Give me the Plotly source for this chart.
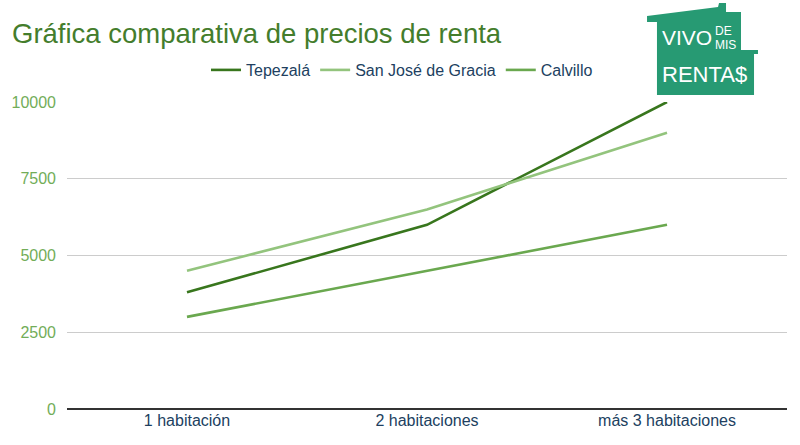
import plotly.graph_objects as go

# Data
categorias = ["1 habitación", "2 habitaciones", "más 3 habitaciones"]
tepezala = [3800, 6000, 10000]
san_jose = [4500, 6500, 9000]
calvillo = [3000, 4500, 6000]
y_ticks = [0, 2500, 5000, 7500, 10000]

W, H = 800, 445
L, R, T, B = 67, 13, 102, 36


def px_x(x):
    return (x - L) / (W - L - R)


def px_y(y):
    return (H - B - y) / (H - T - B)


fig = go.Figure()

series = [
    ("Tepezalá", tepezala, "#38761d"),
    ("San José de Gracia", san_jose, "#93c47d"),
    ("Calvillo", calvillo, "#6aa84f"),
]
for name, vals, color in series:
    fig.add_trace(go.Scatter(
        x=categorias,
        y=vals,
        mode="lines",
        name=name,
        line=dict(color=color, width=2.6),
        hoverinfo="skip"
    ))

# Logo "Vivo de mis rentas" (house badge), outline in page pixels
house = [(647, 16), (718, 7), (719, 3), (726, 3), (726, 12), (741, 12),
         (741, 50), (758, 50), (758, 54), (754, 54), (754, 95), (657, 95),
         (657, 22), (647, 22)]
path = "M " + " L ".join(f"{px_x(x):.4f},{px_y(y):.4f}" for x, y in house) + " Z"
shapes = [dict(type="path", path=path, xref="paper", yref="paper",
               fillcolor="#279a73", line=dict(width=0), layer="above")]

logo_font = "Arial, Liberation Sans, sans-serif"
annotations = [
    dict(text="VIVO", x=px_x(661), y=px_y(38), xanchor="left", yanchor="middle",
         font=dict(family=logo_font, size=21, color="white")),
    dict(text="DE", x=px_x(714), y=px_y(31.5), xanchor="left", yanchor="middle",
         font=dict(family=logo_font, size=12, color="white")),
    dict(text="MIS", x=px_x(714), y=px_y(45.5), xanchor="left", yanchor="middle",
         font=dict(family=logo_font, size=12, color="white")),
    dict(text="RENTA$", x=px_x(661), y=px_y(75), xanchor="left", yanchor="middle",
         font=dict(family=logo_font, size=22, color="white")),
]
for a in annotations:
    a.update(xref="paper", yref="paper", showarrow=False, borderpad=0)

fig.update_layout(
    width=W,
    height=H,
    margin=dict(l=L, r=R, t=T, b=B),
    paper_bgcolor="white",
    plot_bgcolor="white",
    font=dict(family="Arial, Liberation Sans, sans-serif"),
    title=dict(
        text="Gráfica comparativa de precios de renta",
        x=12 / W, xanchor="left", xref="container",
        y=1 - 33 / H, yanchor="middle", yref="container",
        font=dict(size=27.5, color="#447d2c")
    ),
    legend=dict(
        orientation="h",
        x=px_x(402), xanchor="center",
        y=px_y(70), yanchor="middle",
        font=dict(size=16, color="#213f5f"),
        itemwidth=30
    ),
    xaxis=dict(
        type="category",
        range=[-0.5, 2.5],
        showgrid=False,
        showline=False,
        zeroline=False,
        tickfont=dict(size=16, color="#213f5f"),
        ticks=""
    ),
    yaxis=dict(
        range=[0, 10000],
        tickvals=y_ticks,
        ticktext=[str(v) for v in y_ticks],
        showgrid=True,
        gridcolor="#cccccc",
        gridwidth=1,
        zeroline=True,
        zerolinecolor="#333333",
        zerolinewidth=1.5,
        tickfont=dict(size=16, color="#72ad58"),
        ticks="",
        ticklabelstandoff=10
    ),
    shapes=shapes,
    annotations=annotations,
)

fig.write_html("out.html", config={"displayModeBar": False},
               post_script="document.body.style.margin='0px';")
